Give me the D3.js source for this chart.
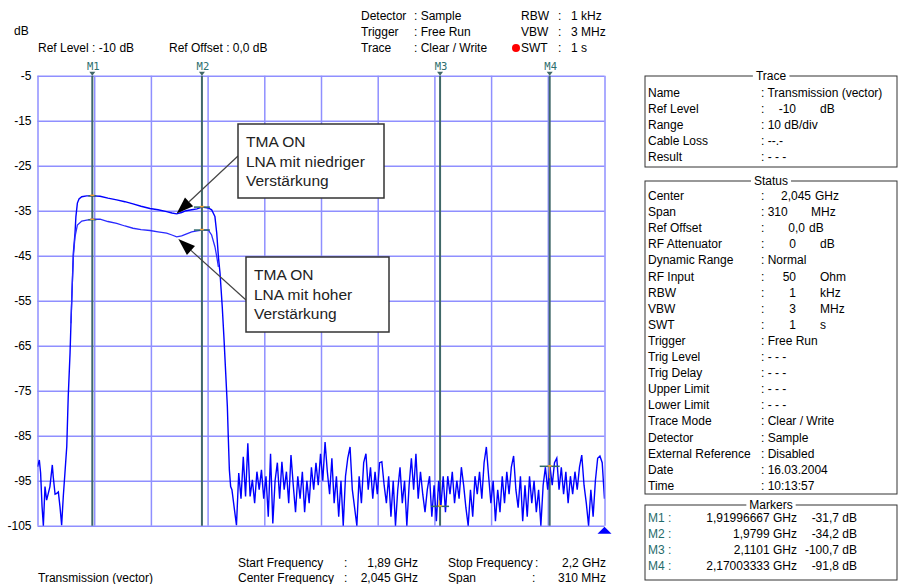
<!DOCTYPE html>
<html><head><meta charset="utf-8">
<script src="https://cdn.jsdelivr.net/npm/d3@7"></script>
<style>
body{margin:0;background:#fff}
svg{display:block}
text{font-family:"Liberation Sans",Arial,sans-serif;fill:#000}
</style>
</head><body>
<svg id="c" width="899" height="584"></svg>
<script>
// ---------- DATA ----------
const yTicks = [-5,-15,-25,-35,-45,-55,-65,-75,-85,-95,-105];
const xGridFreqs = [1.890,1.921,1.952,1.983,2.014,2.045,2.076,2.107,2.138,2.169,2.200];

// left stop band noise (GHz, dB)
const leftNoise = [[1.8900,-91.9],[1.8910,-90.4],[1.8917,-93.3],[1.8925,-100.8],[1.8932,-105],[1.8941,-96.3],
 [1.8950,-99.3],[1.8959,-97.8],[1.8968,-96.3],[1.8981,-91.5],[1.8986,-94.1],[1.8996,-98],[1.9005,-97.8],
 [1.9014,-97.5],[1.9023,-100.8],[1.9032,-104.9],[1.9041,-98.5],[1.9050,-93.3]];

// "LNA mit niedriger Verstärkung" pass band (GHz, dB)
const upperBand = [[1.9060,-87.4],[1.9068,-76.3],[1.9078,-66.6],[1.9083,-60],[1.9089,-52.6],[1.9096,-44.4],
 [1.9105,-40.0],[1.9110,-36.3],[1.9118,-33.3],[1.9127,-32.4],[1.9142,-31.9],[1.9169,-31.7],[1.9200,-31.7],
 [1.9242,-31.8],[1.9285,-32.2],[1.9333,-32.6],[1.9378,-33.0],[1.9422,-33.5],[1.9466,-34.0],[1.9515,-34.5],
 [1.9559,-34.8],[1.9606,-35.2],[1.9635,-35.5],[1.9661,-35.7],[1.9688,-35.4],[1.9712,-35.0],[1.9743,-34.8],
 [1.9772,-34.6],[1.9800,-34.2],[1.9834,-34.4],[1.9852,-34.8],[1.9870,-36.3],[1.9880,-40],[1.9889,-45.2],
 [1.9898,-48.9],[1.9910,-56.3],[1.9920,-63.7],[1.9929,-71.1],[1.9938,-78.5],[1.9943,-85.2],[1.9949,-92.6],
 [1.9956,-96.3]];

// "LNA mit hoher Verstärkung" pass band (GHz, dB)
const lowerBand = [[1.9083,-60],[1.9089,-52.6],[1.9096,-45.2],[1.9105,-40.8],[1.9118,-38.2],[1.9142,-37.3],
 [1.9169,-37.1],[1.9200,-36.9],[1.9242,-36.9],[1.9285,-37.4],[1.9333,-37.8],[1.9378,-38.4],[1.9422,-38.9],
 [1.9466,-39.2],[1.9515,-39.4],[1.9559,-39.7],[1.9606,-40.0],[1.9635,-40.4],[1.9661,-40.8],[1.9688,-40.6],
 [1.9712,-40.2],[1.9743,-39.7],[1.9772,-39.5],[1.9800,-39.3],[1.9834,-39.3],[1.9852,-40.4],[1.9870,-43],
 [1.9880,-45.2],[1.9889,-47.5]];

// right stop band noise: sweep points from 1.9963 GHz, step 1.242 MHz (dB)
const noiseStart = 1.9963, noiseStep = 0.001242;
const rightNoise = [-97,-101,-104.9,-93.3,-99,-89.7,-98.5,-86.7,-98.5,-94.8,-100,-93,-97,-92.6,-99,-94,-103,-89,
 -104.5,-95,-91,-99,-90.8,-97,-93,-100,-89.3,-96,-102,-94,-99,-93,-102,-95,-100,-92,-97,-91,-96,-89,-95,-86.4,
 -93,-98,-90,-100,-94,-103,-95,-105,-94,-90,-87.5,-97,-101,-105,-94,-100,-91,-89,-97,-92,-99,-93,-98,-91,-90.8,
 -96,-100,-94,-103,-95,-105,-97,-92,-100,-95,-105,-96,-90,-97,-89,-99,-93,-98,-102,-97,-94,-103,-96,-104,-95,
 -100.7,-94,-102,-94,-98,-93,-100,-95,-99,-92,-96,-101,-105,-97,-103,-94,-98,-93,-99,-91,-87.5,-94,-100,-95,
 -104,-97,-102,-94,-100,-93,-98,-92,-89.5,-97,-101,-94,-104,-96,-103,-94,-100,-95,-102,-97,-105,-96,-92,-97,
 -91.8,-96,-91,-90,-97,-92,-98,-93,-100,-94,-98,-93,-97,-92,-89.3,-96,-100,-105,-97,-103,-95,-90,-89.5,-91,-99];

const markers = [
 {name:"M1", f:1.91996667, db:-31.7, txtF:"1,91996667 GHz", txtDb:"-31,7 dB"},
 {name:"M2", f:1.9799, db:-34.2, txtF:"1,9799 GHz", txtDb:"-34,2 dB"},
 {name:"M3", f:2.1101, db:-100.7, txtF:"2,1101 GHz", txtDb:"-100,7 dB"},
 {name:"M4", f:2.17003333, db:-91.8, txtF:"2,17003333 GHz", txtDb:"-91,8 dB"}];
const m2Lower = -39.3;
const m1Lower = -37.0;

// rows: [label, colon/value, number, unit]
const traceRows = [["Name",": Transmission (vector)"],["Ref Level",":","-10","dB"],["Range",": 10 dB/div"],
 ["Cable Loss",": --.-"],["Result",": - - -"]];
const statusRows = [["Center",":","2,045","GHz"],["Span",": 310","","MHz"],["Ref Offset",":","0,0","dB"],
 ["RF Attenuator",":","0","dB"],["Dynamic Range",": Normal"],["RF Input",":","50","Ohm"],["RBW",":","1","kHz"],
 ["VBW",":","3","MHz"],["SWT",":","1","s"],["Trigger",": Free Run"],["Trig Level",": - - -"],
 ["Trig Delay",": - - -"],["Upper Limit",": - - -"],["Lower Limit",": - - -"],["Trace Mode",": Clear / Write"],
 ["Detector",": Sample"],["External Reference",": Disabled"],["Date",": 16.03.2004"],["Time",": 10:13:57"]];

const notes = [
 {lines:["TMA ON","LNA mit niedriger","Verstärkung"], tipF:1.9661, tipDb:-35.6},
 {lines:["TMA ON","LNA mit hoher","Verstärkung"], tipF:1.9670, tipDb:-41.3}];

// ---------- DRAW ----------
const svg = d3.select("#c");
svg.append("rect").attr("width",899).attr("height",584).attr("fill","#fff");
const L=37.5, R=604.5, T=75.7, B=525.7;
const x = d3.scaleLinear().domain([1.89,2.2]).range([L,R]);
const y = d3.scaleLinear().domain([-105,-5]).range([B,T]);
const gridCol = "#8f8fff";

// grid
const gx = svg.append("g").attr("transform",`translate(0,${B})`)
  .call(d3.axisBottom(x).tickValues(xGridFreqs).tickSize(-(B-T)).tickFormat(""));
gx.select(".domain").remove();
gx.selectAll("line").attr("stroke",gridCol).attr("stroke-width",1.5);
const gy = svg.append("g").attr("transform",`translate(${L},0)`)
  .call(d3.axisLeft(y).tickValues(yTicks).tickSize(-(R-L)).tickPadding(6).tickFormat(d=>d));
gy.select(".domain").remove();
gy.selectAll("line").attr("stroke",gridCol).attr("stroke-width",1.5);
gy.selectAll("text").attr("font-size",12).attr("fill","#000").style("font-family","Liberation Sans, Arial");

// marker lines
const mCol = "#3f6868";
markers.forEach(m=>{
  svg.append("line").attr("x1",x(m.f)).attr("x2",x(m.f)).attr("y1",T).attr("y2",B)
    .attr("stroke",mCol).attr("stroke-width",2);
  svg.append("path").attr("d",`M${x(m.f)-3},${T-4}L${x(m.f)+3},${T-4}L${x(m.f)},${T}Z`).attr("fill",mCol);
  svg.append("text").attr("x",x(m.f)+1).attr("y",T-6).attr("text-anchor","middle")
    .attr("font-size",10.5).style("font-family","DejaVu Sans Mono, monospace").style("fill","#2d6e6e").text(m.name);
});

// traces
svg.append("defs").append("clipPath").attr("id","clp").append("rect")
  .attr("x",L).attr("y",T-1).attr("width",R-L).attr("height",B-T+2);
const line = d3.line().x(d=>x(d[0])).y(d=>y(d[1]));
const noisePts = rightNoise.map((v,i)=>[noiseStart+i*noiseStep, v]);
const upperAll = leftNoise.concat(upperBand, noisePts);
svg.append("path").datum(upperAll).attr("d",line).attr("fill","none").attr("stroke","#0000ff")
  .attr("stroke-width",1.4).attr("clip-path","url(#clp)");
svg.append("path").datum(lowerBand).attr("d",line).attr("fill","none").attr("stroke","#2a2aff")
  .attr("stroke-width",1.3).attr("clip-path","url(#clp)");

// marker crosshairs
const chCol="#2f6a6a", orange="#f0a030";
function cross(f,db,w){
  svg.append("line").attr("x1",x(f)-w).attr("x2",x(f)+w).attr("y1",y(db)).attr("y2",y(db))
    .attr("stroke",chCol).attr("stroke-width",1.5);
  svg.append("line").attr("x1",x(f)-2).attr("x2",x(f)+2).attr("y1",y(db)-0.5).attr("y2",y(db)-0.5)
    .attr("stroke",orange).attr("stroke-width",1.5);
}
cross(markers[0].f, markers[0].db, 4);
cross(markers[0].f, m1Lower, 4);
cross(markers[1].f, markers[1].db, 8);
cross(markers[1].f, m2Lower, 8);
cross(markers[2].f, markers[2].db, 9);
cross(markers[3].f, markers[3].db, 10);
svg.append("line").attr("x1",x(markers[3].f)).attr("x2",x(markers[3].f)).attr("y1",y(markers[3].db))
  .attr("y2",y(markers[3].db)+12).attr("stroke",orange).attr("stroke-width",1);
svg.append("line").attr("x1",x(markers[2].f)-1).attr("x2",x(markers[2].f)-1).attr("y1",y(markers[2].db)-6)
  .attr("y2",y(markers[2].db)).attr("stroke",orange).attr("stroke-width",1);

// bottom-right triangle
svg.append("path").attr("d",`M${R-7},${B+8}L${R+7},${B+8}L${R},${B+1}Z`).attr("fill","#0000ff");

// annotations
const boxes=[{x:238,y:124,w:146,h:74},{x:246,y:257,w:143,h:75}];
notes.forEach((n,i)=>{
  const b=boxes[i];
  const sx = b.x, sy = i===0 ? b.y+32 : b.y+43;
  const tx=x(n.tipF), ty=y(n.tipDb);
  const ang=Math.atan2(ty-sy,tx-sx), hl=17, hw=6;
  const bx=tx-hl*Math.cos(ang), by=ty-hl*Math.sin(ang);
  svg.append("line").attr("x1",sx).attr("y1",sy).attr("x2",bx).attr("y2",by).attr("stroke","#444").attr("stroke-width",1.2);
  svg.append("path").attr("d",`M${tx},${ty}L${bx+hw*Math.sin(ang)},${by-hw*Math.cos(ang)}L${bx-hw*Math.sin(ang)},${by+hw*Math.cos(ang)}Z`).attr("fill","#000");
  svg.append("rect").attr("x",b.x).attr("y",b.y).attr("width",b.w).attr("height",b.h)
    .attr("fill","#fff").attr("stroke","#333").attr("stroke-width",1.5);
  n.lines.forEach((t,j)=>svg.append("text").attr("x",b.x+8).attr("y",b.y+23+j*19.5)
    .attr("font-size",15.5).style("fill","#222").text(t));
});

// header texts
function txt(s,xx,yy,opt={}){
  const t=svg.append("text").attr("x",xx).attr("y",yy).attr("font-size",opt.fs||12).text(s);
  if(opt.anchor) t.attr("text-anchor",opt.anchor);
  if(opt.fill) t.style("fill",opt.fill);
  return t;
}
txt("dB",14,35);
txt("Ref Level : -10 dB",38,52);
txt("Ref Offset : 0,0 dB",169,52);
[["Detector",": Sample"],["Trigger",": Free Run"],["Trace",": Clear / Write"]].forEach((r,i)=>{
  txt(r[0],361,20+i*16); txt(r[1],414,20+i*16);
});
[["RBW",": ","1 kHz"],["VBW",": ","3 MHz"],["SWT",": ","1 s"]].forEach((r,i)=>{
  txt(r[0],521,20+i*16); txt(":",558,20+i*16); txt(r[2],571,20+i*16);
});
svg.append("circle").attr("cx",516).attr("cy",48).attr("r",4).attr("fill","#ff0000");

// bottom texts
txt("Start Frequency",238,567); txt(":",344,567); txt("1,89 GHz",418,567,{anchor:"end"});
txt("Center Frequency",238,582); txt(":",344,582); txt("2,045 GHz",418,582,{anchor:"end"});
txt("Stop Frequency",448,567); txt(":",535,567); txt("2,2 GHz",606,567,{anchor:"end"});
txt("Span",448,582); txt(":",532,582); txt("310 MHz",606,582,{anchor:"end"});
txt("Transmission (vector)",38,582);

// right panel group boxes
function group(title,top,bottom){
  svg.append("rect").attr("x",645).attr("y",top).attr("width",252).attr("height",bottom-top)
    .attr("fill","none").attr("stroke","#333").attr("stroke-width",1);
  const t=txt(title,771,top+4,{anchor:"middle"});
  const bb=t.node().getBBox();
  svg.insert("rect",()=>t.node()).attr("x",bb.x-3).attr("y",top-2).attr("width",bb.width+6).attr("height",4).attr("fill","#fff");
}
group("Trace",76,167);
group("Status",181,494);
group("Markers",505,580);
function rows(list,y0){
  list.forEach((r,i)=>{
    const yy=y0+i*16.1;
    txt(r[0],648,yy);
    txt(r[1],761,yy);
    if(r.length>2){
      let nEnd=796, uX=820;
      if(r[0]==="Center"){nEnd=811;uX=815;}
      else if(r[0]==="Span"){uX=811;}
      else if(r[0]==="Ref Offset"){nEnd=805;uX=809;}
      if(r[2]) txt(r[2],nEnd,yy,{anchor:"end"});
      txt(r[3],uX,yy);
    }
  });
}
rows(traceRows,97);
rows(statusRows,200);
markers.forEach((m,i)=>{
  const yy=522+i*16;
  txt(m.name+" :",648,yy,{fill:"#1f6b6b"});
  txt(m.txtF,797,yy,{anchor:"end"});
  txt(m.txtDb,857,yy,{anchor:"end"});
});
</script>
</body></html>
